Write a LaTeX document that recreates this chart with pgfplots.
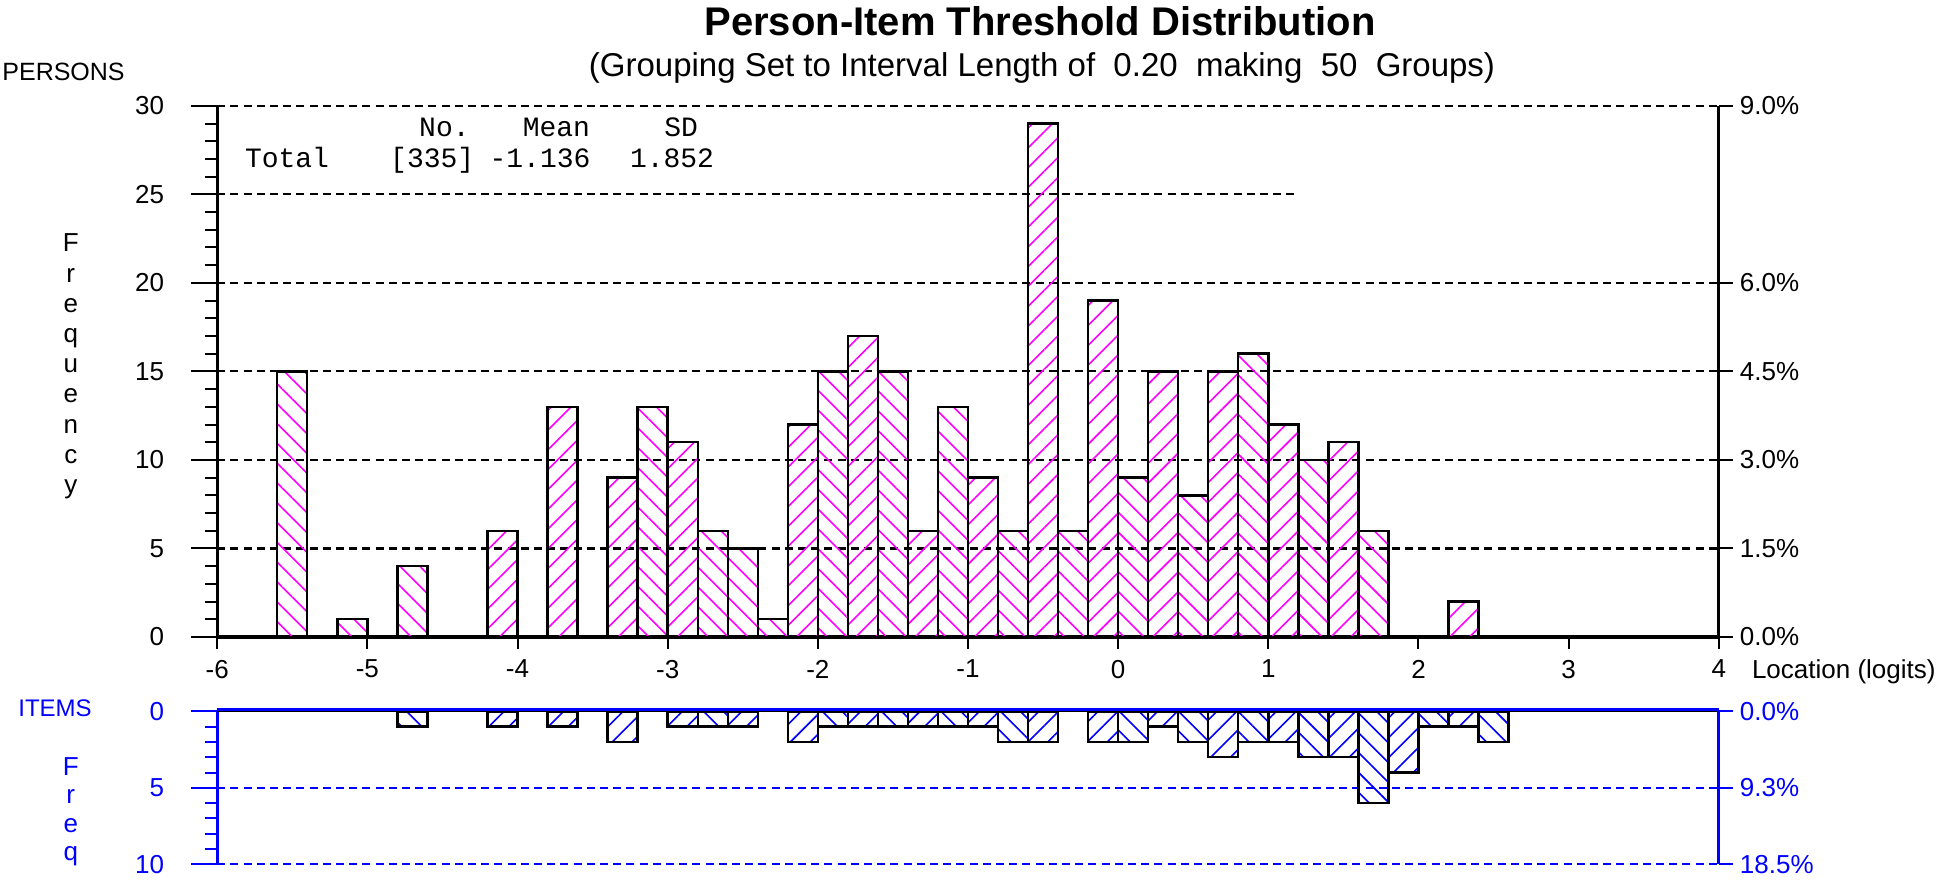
\documentclass[border=0pt]{standalone}
\usepackage{fontspec}
\setmainfont{Liberation Sans}
\setmonofont{Liberation Mono}
\usepackage{pgfplots}
\pgfplotsset{compat=1.18}
\usepackage{pgfplotstable}
\usetikzlibrary{patterns.meta}

\definecolor{hatchmag}{RGB}{255,0,255}
\definecolor{itemblue}{RGB}{0,0,255}

% persons, bin centre and count, split by hatch direction
\pgfplotstableread{
x n
-5.5 15
-5.1 1
-4.7 4
-3.1 13
-2.7 6
-2.5 5
-2.3 1
-1.9 15
-1.5 15
-1.1 13
-0.7 6
-0.3 6
0.1 9
0.5 8
0.9 16
1.3 10
1.7 6
}\personsback
\pgfplotstableread{
x n
-4.1 6
-3.7 13
-3.3 9
-2.9 11
-2.1 12
-1.7 17
-1.3 6
-0.9 9
-0.5 29
-0.1 19
0.3 15
0.7 15
1.1 12
1.5 11
2.3 2
}\personsfwd
% item thresholds
\pgfplotstableread{
x n
-4.7 1
-2.7 1
-1.9 1
-1.5 1
-1.1 1
-0.7 2
0.1 2
0.5 2
0.9 2
1.3 3
1.7 6
2.1 1
2.5 2
}\itemsback
\pgfplotstableread{
x n
-4.1 1
-3.7 1
-3.3 2
-2.9 1
-2.5 1
-2.1 2
-1.7 1
-1.3 1
-0.9 1
-0.5 2
-0.1 2
0.3 1
0.7 3
1.1 2
1.5 3
1.9 4
2.3 1
}\itemsfwd

\tikzset{
  grid dash/.style={dash pattern=on 4pt off 2.6pt, line width=1.05pt},
  hatchfwd/.style={pattern={Lines[angle=45,distance=7pt,line width=0.8pt]}},
  hatchback/.style={pattern={Lines[angle=-45,distance=7pt,line width=0.8pt]}},
}
\pgfplotsset{
  panel/.style={scale only axis, width=750.8pt, xmin=-6, xmax=4, clip=false,
    /pgf/number format/assume math mode=true,
    ticklabel style={font=\fontsize{13}{13}\selectfont}, tick align=outside},
  bars/.style={ybar, bar width=0.2, bar shift=0pt, draw=black, line width=1.2pt},
}

\begin{document}
\begin{tikzpicture}
\useasboundingbox (0,0) rectangle (973pt,439.5pt);

% ---- persons panel
\begin{axis}[panel, at={(108.6pt,121pt)}, anchor=south west, height=265.6pt,
  ymin=0, ymax=30, axis x line*=bottom, axis y line=none,
  x axis line style={line width=1.8pt}, xtick={-6,...,4}, major tick length=6pt,
  xtick style={line width=1pt, black}, xticklabel style={yshift=-2pt}]
  \draw[grid dash] (axis cs:-6,5) -- (axis cs:4,5);
  \draw[grid dash] (axis cs:-6,10) -- (axis cs:4,10);
  \draw[grid dash] (axis cs:-6,15) -- (axis cs:4,15);
  \draw[grid dash] (axis cs:-6,20) -- (axis cs:4,20);
  \draw[grid dash] (axis cs:-6,25) -- (axis cs:1.2,25);
  \draw[grid dash] (axis cs:-6,30) -- (axis cs:4,30);
  \addplot[bars, hatchback, pattern color=hatchmag] table[x=x,y=n] {\personsback};
  \addplot[bars, hatchfwd, pattern color=hatchmag] table[x=x,y=n] {\personsfwd};
\end{axis}
\begin{axis}[panel, at={(108.6pt,121pt)}, anchor=south west, height=265.6pt,
  ymin=0, ymax=30, hide x axis, axis y line*=left,
  y axis line style={line width=1.5pt}, ytick={0,5,...,30}, minor y tick num=4,
  major tick length=13pt, minor tick length=6pt, ytick style={line width=1pt, black},
  yticklabel style={xshift=-10pt}]
\end{axis}
\begin{axis}[panel, at={(108.6pt,121pt)}, anchor=south west, height=265.6pt,
  ymin=0, ymax=30, hide x axis, axis y line*=right,
  y axis line style={line width=1.5pt}, ytick={0,5,10,15,20,30},
  yticklabels={0.0\%,1.5\%,3.0\%,4.5\%,6.0\%,9.0\%},
  major tick length=7pt, ytick style={line width=1pt, black}]
\end{axis}

% ---- items panel
\begin{axis}[panel, at={(108.6pt,7.4pt)}, anchor=south west, height=76.4pt,
  ymin=0, ymax=10, y dir=reverse, hide x axis, axis y line*=left,
  y axis line style={line width=1.5pt, itemblue}, ytick={0,5,10}, minor y tick num=4,
  major tick length=13pt, minor tick length=6pt, ytick style={line width=1pt, itemblue},
  yticklabel style={text=itemblue, xshift=-10pt}]
  \draw[grid dash, itemblue] (axis cs:-6,5) -- (axis cs:4,5);
  \draw[grid dash, itemblue] (axis cs:-6,10) -- (axis cs:4,10);
  \addplot[bars, hatchfwd, pattern color=itemblue] table[x=x,y=n] {\itemsfwd};
  \addplot[bars, hatchback, pattern color=itemblue] table[x=x,y=n] {\itemsback};
  \draw[line width=1pt] (axis cs:-6,0) -- (axis cs:4,0);
  \draw[itemblue, line width=1.3pt, yshift=1pt] (axis cs:-6,0) -- (axis cs:4,0);
\end{axis}
\begin{axis}[panel, at={(108.6pt,7.4pt)}, anchor=south west, height=76.4pt,
  ymin=0, ymax=10, y dir=reverse, hide x axis, axis y line*=right,
  y axis line style={line width=1.5pt, itemblue}, ytick={0,5,10},
  yticklabels={0.0\%,9.3\%,18.5\%},
  major tick length=7pt, ytick style={line width=1pt, itemblue},
  yticklabel style={text=itemblue}]
\end{axis}

% ---- texts
\node[anchor=base, font=\fontsize{20}{20}\selectfont\bfseries] at (520pt,421.7pt)
  {Person-Item Threshold Distribution};
\node[anchor=base, font=\fontsize{16.5}{16.5}\selectfont] at (521pt,401.2pt)
  {(Grouping Set to Interval Length of\ \ 0.20\ \ making\ \ 50\ \ Groups)};
\node[anchor=west, inner sep=0, font=\fontsize{12.5}{12.5}\selectfont] at (1pt,403.5pt) {PERSONS};
\node[anchor=west, inner sep=0, font=\fontsize{13}{13}\selectfont] at (875.8pt,103.5pt) {Location (logits)};
\node[anchor=west, inner sep=0, font=\fontsize{12}{12}\selectfont, text=itemblue] at (9pt,85.6pt) {ITEMS};

\foreach \c [count=\i] in {F,r,e,q,u,e,n,c,y}
  \node[anchor=base, inner sep=0, font=\fontsize{13}{13}\selectfont] at (35.4pt,{313.5pt-(\i-1)*15.1pt}) {\c};
\foreach \c [count=\i] in {F,r,e,q}
  \node[anchor=base, inner sep=0, font=\fontsize{13}{13}\selectfont, text=itemblue] at (35.4pt,{52pt-(\i-1)*14.3pt}) {\c};

% summary statistics
\begin{scope}[every node/.style={anchor=base west, inner sep=0, font=\ttfamily\fontsize{14}{14}\selectfont}]
  \node at (209.4pt,371pt) {No.};
  \node at (261.2pt,371pt) {Mean};
  \node at (332pt,371pt) {SD};
  \node at (122.3pt,355.6pt) {Total};
  \node at (194.9pt,355.6pt) {[335]};
  \node at (244.6pt,355.6pt) {-1.136};
  \node at (314.8pt,355.6pt) {1.852};
\end{scope}
\end{tikzpicture}
\end{document}
